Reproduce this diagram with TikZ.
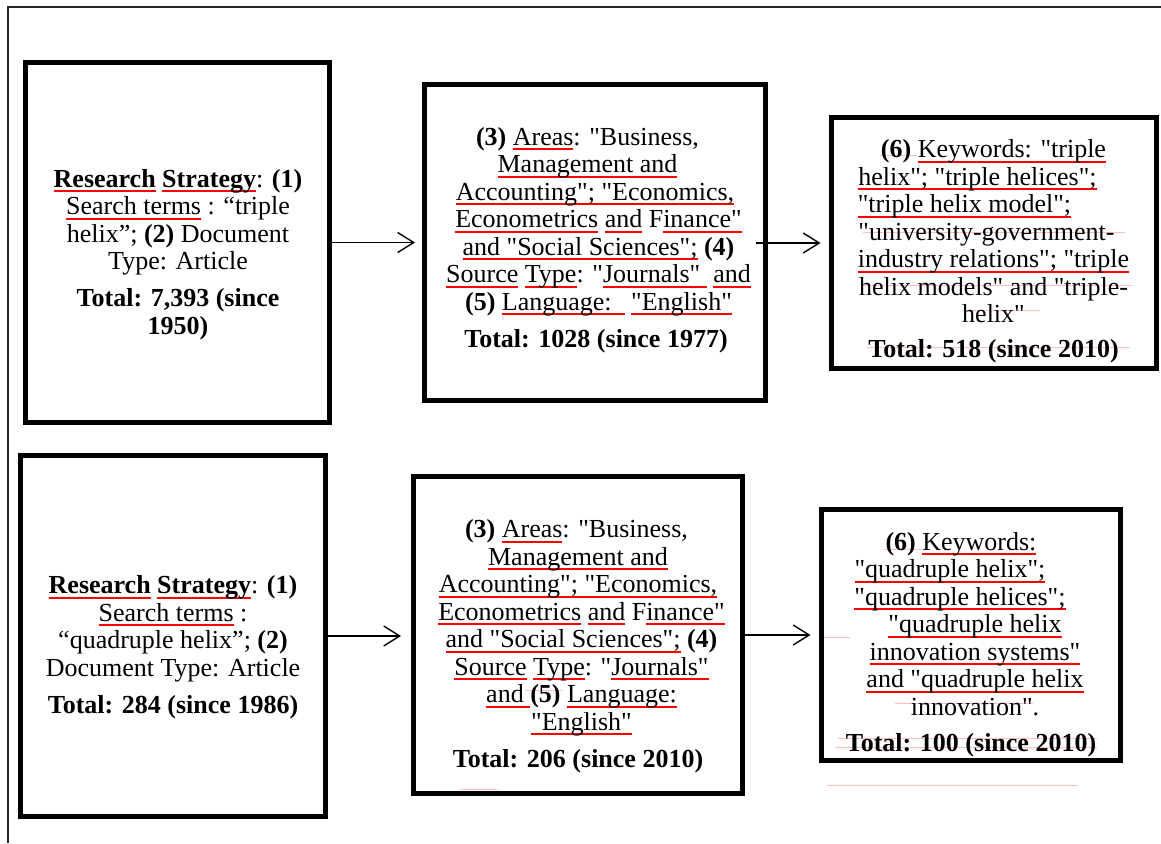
\documentclass[tikz,border=0pt]{standalone}
\usepackage{fontspec}
\setmainfont{Liberation Serif}[Ligatures=TeXOff]
\usetikzlibrary{arrows.meta}
\newsavebox\rubox
\newcommand\ru[1]{\sbox\rubox{#1}\rlap{\color{red}\rule[-5pt]{\wd\rubox}{2.2pt}}\usebox\rubox}
\newcommand\tr[1]{\rule{#1}{0pt}}
\newcommand\q{\char"22\relax}
\begin{document}
\begin{tikzpicture}[x=1pt,y=-1pt,
  box/.style={draw, line width=5pt, inner sep=0pt},
  txt/.style={align=center, inner sep=0pt, font=\fontsize{26}{27.5}\selectfont},
  arr/.style={line width=1.4pt, -{Straight Barb[length=16pt,width=20pt]}},
  ghost/.style={red!25, line width=0.6pt},
  frame/.style={black!85, line width=1.6pt}]
\useasboundingbox (0,0) rectangle (1161,843);
\fill[white] (0,0) rectangle (1161,843);
\draw[frame] (8,843) -- (8,7) -- (1161,7);
% faint marks (behind the text)
\draw[ghost] (880,155) -- (917,155);
\draw[ghost] (863,232.7) -- (1125,232.7);
\draw[ghost] (863,285) -- (1132,285);
\draw[ghost] (963,310.7) -- (1040,310.7);
\draw[ghost] (867,347) -- (1130,347);
\draw[ghost] (884,549) -- (922,549);
\draw[ghost] (895,703) -- (1033,703);
\draw[ghost] (838,738) -- (1097,738);
\draw[ghost] (835,747) -- (1097,747);
\draw[ghost] (827,785) -- (1078,785);
\draw[ghost] (820,637) -- (850,637);
\draw[ghost] (460,789) -- (497,789);
\draw[ghost] (526,690) -- (563,690);
% boxes
\node[box, minimum width=304pt, minimum height=360pt] (b1) at (177.5,242.5) {};
\node[box, minimum width=341pt, minimum height=316pt] (b2) at (595,242.5) {};
\node[box, minimum width=325pt, minimum height=251pt] (b3) at (994,243) {};
\node[box, minimum width=305pt, minimum height=361pt] (b4) at (173,636) {};
\node[box, minimum width=329pt, minimum height=317pt] (b5) at (578,635) {};
\node[box, minimum width=299pt, minimum height=251pt] (b6) at (971,635) {};
% texts
\node[txt] (t1) at (178,254.5) {\textbf{\ru{Research} \ru{Strategy}}: \textbf{(1)}\\
\ru{Search terms} : “triple\\
helix”; \textbf{(2)} Document\\
Type: Article\\[9.5pt]
\textbf{Total: 7,393 (since}\\
\textbf{1950)}};
\node[txt] (t2) at (598.5,240) {\textbf{(3)} \ru{Areas}: \q Business,\tr{22pt}\\
\ru{Management and}\tr{22pt}\\
\ru{Accounting\q; \q Economics,}\tr{7pt}\\
\ru{Econometrics} \ru{and} F\ru{inance\q}\\
\ru{and \q Social Sciences\q;} \textbf{(4)}\\
\ru{Source} \ru{Type}: \q\ru{Journals\q\ } \ru{and}\\
\textbf{(5)} \ru{Language:\ \ } \ru{\q English\q}\\[9.5pt]
\textbf{Total: 1028 (since 1977)}\tr{5pt}};
\node[txt] (t3) at (993.5,251.5) {\textbf{(6)} \ru{Keywords: \q triple}\\
\ru{helix\q; \q triple helices\q;}\tr{32pt}\\
\ru{\q triple helix model\q;}\tr{58pt}\\
\q university-government-\tr{14pt}\\
\ru{industry relations\q; \q triple}\\
helix models\q{} and \q triple-\\
helix\q\\[7.5pt]
\textbf{Total: 518 (since 2010)}};
\node[txt] (t4) at (173,647.5) {\textbf{\ru{Research} \ru{Strategy}}: \textbf{(1)}\\
\ru{Search terms} :\\
“quadruple helix”; \textbf{(2)}\\
Document Type: Article\\[10pt]
\textbf{Total: 284 (since 1986)}};
\node[txt] (t5) at (581.5,646.5) {\textbf{(3)} \ru{Areas}: \q Business,\tr{10pt}\\
\ru{Management and}\tr{7pt}\\
\ru{Accounting\q; \q Economics,}\tr{7pt}\\
\ru{Econometrics} \ru{and} F\ru{inance\q}\\
\ru{and \q Social Sciences\q;} \textbf{(4)}\\
\ru{Source} \ru{Type}: \q\ru{Journals\q}\\
\ru{and\ }\textbf{(5)} \ru{Language:}\\
\ru{\q English\q}\\[10pt]
\textbf{Total: 206 (since 2010)}\tr{7pt}};
\node[txt] (t6) at (975,644.5) {\textbf{(6)} \ru{Keywords:}\tr{28pt}\\
\ru{\q quadruple helix\q;}\tr{50pt}\\
\ru{\q quadruple helices\q;}\tr{30pt}\\
\ru{\q quadruple helix}\\
\ru{innovation systems\q}\\
\ru{and \q quadruple helix}\\
innovation\q.\\[8.5pt]
\textbf{Total: 100 (since 2010)}\tr{8pt}};
% arrows
\draw[arr] (b1.east) -- ([xshift=-7pt]b2.west);
\draw[arr] ([xshift=-12pt,yshift=-0.5pt]b2.east) -- ([xshift=-8.5pt]b3.west);
\draw[arr] (b4.east) -- ([xshift=-10pt,yshift=-1pt]b5.west);
\draw[arr] (b5.east) -- ([xshift=-8.5pt]b6.west);
\end{tikzpicture}
\end{document}
